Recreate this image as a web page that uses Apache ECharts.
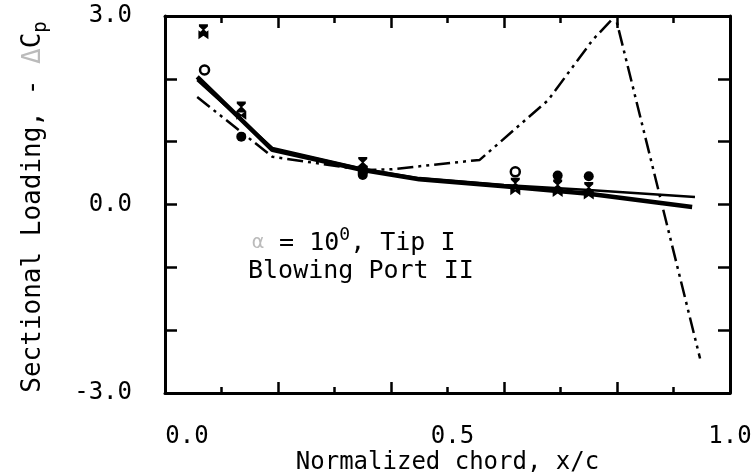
<!DOCTYPE html>
<html><head><meta charset="utf-8">
<script src="https://cdn.jsdelivr.net/npm/echarts@6/dist/echarts.min.js"></script>
<style>html,body{margin:0;padding:0;background:#fff}#c{width:755px;height:472px}</style>
</head><body><div id="c"></div>
<script>
// ---- data ----
var xTickLabels = ['0.0', '0.5', '1.0'];
var yTickLabels = ['3.0', '0.0', '-3.0'];
var xAxisTitle = 'Normalized chord, x/c';
var annotLine1 = '= 10';
var annotLine2 = 'Blowing Port II';

// thick solid curve
var lineA = [[0.057, 2.03], [0.19, 0.87], [0.35, 0.55], [0.45, 0.40], [0.60, 0.29], [0.75, 0.17], [0.933, -0.04]];
// thin solid curve
var lineB = [[0.057, 1.98], [0.19, 0.90], [0.35, 0.57], [0.45, 0.42], [0.60, 0.31], [0.75, 0.23], [0.938, 0.12]];
// dash-dot-dot curve
var lineC = [[0.057, 1.71], [0.19, 0.76], [0.35, 0.55], [0.40, 0.56], [0.557, 0.71], [0.678, 1.66], [0.757, 2.62], [0.797, 3.0], [0.947, -2.45]];
// measured points
var openCircles = [[0.07, 2.14], [0.62, 0.52]];
var filledCircles = [[0.135, 1.08], [0.35, 0.47], [0.695, 0.46], [0.75, 0.45]];
var hourglass = [[0.068, 2.78], [0.135, 1.55], [0.35, 0.67], [0.62, 0.34], [0.695, 0.31], [0.75, 0.27]];
var bowtie = [[0.068, 2.70], [0.135, 1.42], [0.35, 0.55], [0.62, 0.22], [0.695, 0.19], [0.75, 0.15]];

var FONT = '"DejaVu Sans Mono", monospace';
var chart = echarts.init(document.getElementById('c'));

function near(v, t) { return Math.abs(v - t) < 1e-6; }
var lineStyleAxis = { color: '#000', width: 3 };
var hg = 'path://M0,0 L10,0 L10,2 L6,5 L10,8 L10,10 L0,10 L0,8 L4,5 L0,2 Z';
var bt = 'path://M0,0 L5,4 L10,0 L10,10 L5,6 L0,10 Z';

chart.setOption({
  animation: false,
  grid: { left: 165, right: 25, top: 16, bottom: 79, outerBoundsMode: 'none', containLabel: false },
  xAxis: [
    { type: 'value', min: 0, max: 1, interval: 0.1, position: 'bottom',
      axisLine: { show: true, onZero: false, lineStyle: lineStyleAxis },
      axisTick: { show: true, inside: true, length: 6, lineStyle: { color: '#000', width: 2.5 } },
      splitLine: { show: false },
      axisLabel: { margin: 32, color: '#000', fontFamily: FONT, fontSize: 24,
        rich: { s: { fontFamily: FONT, fontSize: 24, color: '#000', padding: [0, 0, 0, 44] },
                m: { fontFamily: FONT, fontSize: 24, color: '#000', padding: [0, 0, 0, 10] } },
        formatter: function (v) {
          if (near(v, 0)) return '{s|' + xTickLabels[0] + '}';
          if (near(v, 0.5)) return '{m|' + xTickLabels[1] + '}';
          if (near(v, 1)) return xTickLabels[2];
          return '';
        } },
      name: xAxisTitle, nameLocation: 'middle', nameGap: 58, nameMoveOverlap: false,
      nameTextStyle: { color: '#000', fontFamily: FONT, fontSize: 24 } },
    { type: 'value', min: 0, max: 1, interval: 0.2, position: 'bottom',
      axisLine: { show: false, onZero: false },
      axisTick: { show: true, inside: true, length: 11, lineStyle: { color: '#000', width: 2.5 } },
      splitLine: { show: false }, axisLabel: { show: false } },
    { type: 'value', min: 0, max: 1, interval: 0.1, position: 'top',
      axisLine: { show: true, onZero: false, lineStyle: lineStyleAxis },
      axisTick: { show: true, inside: true, length: 7, lineStyle: { color: '#000', width: 2.5 } },
      splitLine: { show: false }, axisLabel: { show: false } },
    { type: 'value', min: 0, max: 1, interval: 0.2, position: 'top',
      axisLine: { show: false, onZero: false },
      axisTick: { show: true, inside: true, length: 12, lineStyle: { color: '#000', width: 2.5 } },
      splitLine: { show: false }, axisLabel: { show: false } }
  ],
  yAxis: [
    { type: 'value', min: -3, max: 3, interval: 1, position: 'left',
      axisLine: { show: true, onZero: false, lineStyle: lineStyleAxis },
      axisTick: { show: true, inside: true, length: 12, lineStyle: { color: '#000', width: 2.5 } },
      splitLine: { show: false },
      axisLabel: { margin: 33, color: '#000', fontFamily: FONT, fontSize: 24,
        formatter: function (v) {
          if (near(v, 3)) return yTickLabels[0];
          if (near(v, 0)) return yTickLabels[1];
          if (near(v, -3)) return yTickLabels[2];
          return '';
        } } },
    { type: 'value', min: -3, max: 3, interval: 1, position: 'right',
      axisLine: { show: true, onZero: false, lineStyle: lineStyleAxis },
      axisTick: { show: true, inside: true, length: 12, lineStyle: { color: '#000', width: 2.5 } },
      splitLine: { show: false }, axisLabel: { show: false } }
  ],
  series: [
    { type: 'line', data: lineA, symbol: 'none', lineStyle: { color: '#000', width: 4.5 }, z: 3 },
    { type: 'line', data: lineB, symbol: 'none', lineStyle: { color: '#000', width: 2.5 }, z: 3 },
    { type: 'line', data: lineC, symbol: 'none', lineStyle: { color: '#000', width: 2.5, type: [16, 5, 3, 5, 3, 5] }, z: 3 },
    { type: 'scatter', data: openCircles, symbol: 'circle', symbolSize: 9,
      itemStyle: { color: '#fff', borderColor: '#000', borderWidth: 2.5, opacity: 1 }, z: 5 },
    { type: 'scatter', data: filledCircles, symbol: 'circle', symbolSize: 10,
      itemStyle: { color: '#000', opacity: 1 }, z: 5 },
    { type: 'scatter', data: hourglass, symbol: hg, symbolSize: [9, 11],
      itemStyle: { color: '#000', opacity: 1 }, z: 5 },
    { type: 'scatter', data: bowtie, symbol: bt, symbolSize: [10, 9],
      itemStyle: { color: '#000', opacity: 1 }, z: 5 }
  ],
  graphic: [
    { type: 'text', x: 33, y: 207, rotation: Math.PI / 2,
      style: { text: 'Sectional Loading, - {faint|Δ}C{sub|p}', fill: '#000', font: '26px ' + FONT,
        align: 'center', verticalAlign: 'middle',
        rich: { faint: { fill: '#bbb', font: '26px ' + FONT },
                sub: { font: '19px ' + FONT, fill: '#000', padding: [16, 0, 0, 0] } } } },
    { type: 'text', x: 252, y: 243,
      style: { text: '{faint|α} ' + annotLine1 + '{sup|0}, Tip I', fill: '#000', font: '25px ' + FONT,
        align: 'left', verticalAlign: 'middle',
        rich: { faint: { fill: '#bbb', font: '20px ' + FONT },
                sup: { font: '18px ' + FONT, fill: '#000', padding: [0, 0, 16, 0] } } } },
    { type: 'text', x: 248, y: 271,
      style: { text: annotLine2, fill: '#000', font: '25px ' + FONT, align: 'left', verticalAlign: 'middle' } }
  ]
});
</script></body></html>
